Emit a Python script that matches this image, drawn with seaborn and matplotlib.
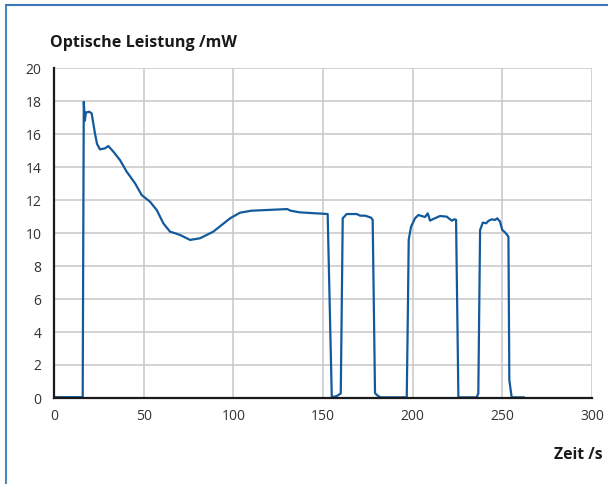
import matplotlib
matplotlib.use("Agg")
import matplotlib.pyplot as plt
from matplotlib.lines import Line2D
import seaborn as sns
import pandas as pd

# ── Data ───────────────────────────────────────────────────────────────────────
zeit = [0, 16.0, 16.6, 17.2, 17.8, 19.7, 21.0, 22.9, 24.0, 25.6, 28.4, 30.3,
        33.1, 36.8, 40.5, 45.2, 48.9, 53.5, 57.3, 61.0, 64.7, 66.5, 68.0,
        70.3, 75.9, 81.4, 88.8, 98.2, 103.7, 110.0, 120.0, 130.0, 132.0,
        137.2, 145.0, 152.6, 154.9, 157.7, 159.9, 160.4, 161.0, 163.2, 168.8,
        170.7, 173.5, 176.8, 177.7, 179.0, 180.0, 182.0, 196.7, 197.3, 197.8,
        199.1, 201.3, 203.2, 205.0, 206.9, 208.4, 209.7, 211.5, 215.3, 219.0,
        221.8, 223.3, 224.2, 225.5, 235.7, 236.6, 237.6, 239.1, 241.0, 242.2,
        244.1, 245.9, 247.2, 248.7, 250.0, 251.5, 253.4, 253.9, 255.2, 262.1]
leistung = [0.05, 0.05, 17.95, 16.8, 17.3, 17.35, 17.25, 16.0, 15.4, 15.07,
            15.13, 15.27, 14.93, 14.42, 13.72, 13.01, 12.3, 11.9, 11.39, 10.58,
            10.08, 10.02, 9.97, 9.88, 9.58, 9.68, 10.08, 10.89, 11.23, 11.35,
            11.4, 11.45, 11.35, 11.25, 11.2, 11.15, 0.04, 0.12, 0.28, 5.0,
            10.89, 11.15, 11.15, 11.05, 11.05, 10.93, 10.8, 0.3, 0.18, 0.04,
            0.04, 5.0, 9.6, 10.38, 10.89, 11.09, 11.03, 10.97, 11.19, 10.75,
            10.85, 11.03, 10.99, 10.75, 10.83, 10.8, 0.04, 0.04, 0.28, 10.18,
            10.63, 10.59, 10.73, 10.83, 10.79, 10.89, 10.69, 10.18, 10.04, 9.78,
            1.09, 0.04, 0.04]

x_ticks = [0, 50, 100, 150, 200, 250, 300]
y_ticks = list(range(0, 21, 2))

df = pd.DataFrame({"zeit": zeit, "leistung": leistung})

# ── Style ──────────────────────────────────────────────────────────────────────
sns.set_style("whitegrid")
plt.rcParams["font.family"] = ["Open Sans", "DejaVu Sans"]

fig = plt.figure(figsize=(6.08, 4.84), dpi=100)
ax = fig.add_axes([54 / 608, 1 - 398 / 484, 538 / 608, 330 / 484])

sns.lineplot(data=df, x="zeit", y="leistung", ax=ax, color="#125a9c",
             linewidth=1.6, sort=False)

ax.set_xlim(0, 300)
ax.set_ylim(0, 20)
ax.set_xticks(x_ticks)
ax.set_yticks(y_ticks)
ax.set_xlabel("")
ax.set_ylabel("")
ax.grid(True, color="#c8c8c8", linewidth=1.1)
ax.tick_params(axis="both", length=0, labelsize=10, labelcolor="#333333")
ax.tick_params(axis="x", pad=8)
ax.tick_params(axis="y", pad=9)

for side in ["top", "right"]:
    ax.spines[side].set_visible(False)
for side in ["left", "bottom"]:
    ax.spines[side].set_color("#1a1a1a")
    ax.spines[side].set_linewidth(1.6)
    ax.spines[side].set_zorder(5)

fig.text(50 / 608, 1 - 43 / 484, "Optische Leistung /mW", fontsize=11.6,
         fontweight="bold", color="#1a1a1a", va="center", ha="left")
fig.text(603 / 608, 1 - 455 / 484, "Zeit /s", fontsize=11.3,
         fontweight="bold", color="#1a1a1a", va="center", ha="right")

# blue frame on the left and top
fig.add_artist(Line2D([5.5 / 608, 5.5 / 608], [0, 1 - 5 / 484],
                      color="#4a88c0", linewidth=1.5))
fig.add_artist(Line2D([5.5 / 608, 1], [1 - 5 / 484, 1 - 5 / 484],
                      color="#3a78b8", linewidth=1.5))

plt.savefig("out.png", dpi=100)
